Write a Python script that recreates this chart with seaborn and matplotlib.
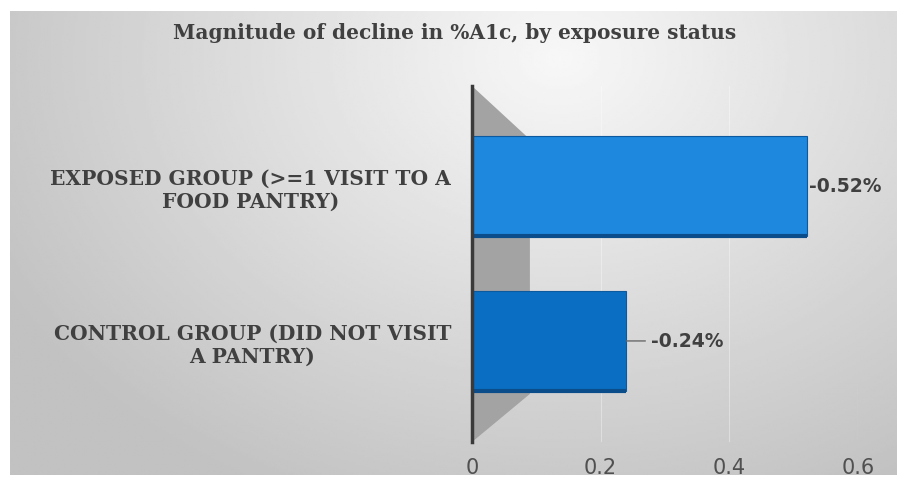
# plot.py - magnitude of decline in %A1c by exposure status

import numpy as np
import pandas as pd
import matplotlib
matplotlib.use('Agg')
import matplotlib.pyplot as plt
from matplotlib.patches import Polygon
import seaborn as sns

sns.set_theme(style='white')
plt.rcParams['font.family'] = ['DejaVu Sans']

# Data
groups = ['EXPOSED GROUP (>=1 VISIT TO A\nFOOD PANTRY)',
          'CONTROL GROUP (DID NOT VISIT\nA PANTRY)']
decline = [0.52, 0.24]
value_labels = ['-0.52%', '-0.24%']
x_ticks = [0, 0.2, 0.4, 0.6]
x_tick_labels = ['0', '0.2', '0.4', '0.6']
bar_colors = ['#1e88de', '#0a6fc2']

text_color = '#404040'

df = pd.DataFrame({'group': groups, 'decline': decline})

W, H = 907, 489
fig = plt.figure(figsize=(W / 100, H / 100), dpi=100)
fig.patch.set_facecolor('white')

# gradient background panel (light top centre, grey edges)
bg = fig.add_axes([10 / W, 1 - 476 / H, 887 / W, 464 / H])
gx, gy = np.meshgrid(np.linspace(0, 1, 400), np.linspace(0, 1, 200))
dist = np.sqrt(((gx - 0.62) / 0.75) ** 2 + ((gy - 0.1) / 1.1) ** 2)
shade = np.clip(0.97 - 0.22 * dist, 0.76, 0.97)
bg.imshow(shade, cmap='gray', vmin=0, vmax=1, aspect='auto',
          extent=[0, 1, 1, 0], interpolation='bilinear')
bg.axis('off')

fig.text(455 / W, 1 - 33 / H, 'Magnitude of decline in %A1c, by exposure status',
         ha='center', va='center', fontsize=14.5, fontweight='bold',
         family='DejaVu Serif', color=text_color)

# main chart axes
ax = fig.add_axes([472 / W, 1 - 443 / H, 386 / W, 356 / H])
ax.patch.set_alpha(0)

# grey side wall of the 3D chart
wall = Polygon([(0, 1), (0.15, 0.85), (0.15, 0.135), (0, 0)], closed=True,
               transform=ax.transAxes, facecolor='#a3a3a3', edgecolor='none',
               zorder=1, clip_on=False)
ax.add_patch(wall)

sns.barplot(data=df, x='decline', y='group', hue='group', palette=bar_colors,
            saturation=1, width=0.645, legend=False, ax=ax, zorder=3,
            edgecolor='#0b5aa0', linewidth=0.8)

# darker bottom edge on each bar
for p in list(ax.patches):
    if p is wall:
        continue
    y0 = p.get_y() + p.get_height()
    ax.plot([p.get_x(), p.get_x() + p.get_width()], [y0, y0],
            color='#0b4d8a', lw=3, zorder=4, solid_capstyle='butt')

ax.set_xlim(0, 0.6)
ax.set_ylim(1.652, -0.645)

ax.set_xticks(x_ticks, labels=x_tick_labels)
ax.set_yticks([0, 1], labels=groups)
ax.tick_params(axis='x', length=0, pad=11, labelsize=15, labelcolor='#505050')
ax.tick_params(axis='y', length=0, pad=15, labelsize=14.5, labelcolor=text_color)
for t in ax.get_yticklabels():
    t.set_multialignment('center')
    t.set_family('DejaVu Serif')
    t.set_fontweight('bold')
    t.set_linespacing(1.15)

ax.set_xlabel('')
ax.set_ylabel('')
ax.grid(axis='x', color='white', alpha=0.35, lw=0.8, zorder=0)
ax.grid(axis='y', visible=False)

for s in ['top', 'right', 'bottom']:
    ax.spines[s].set_visible(False)
ax.spines['left'].set_color('#3a3a3a')
ax.spines['left'].set_linewidth(2.5)
ax.spines['left'].set_zorder(5)

# data labels
for i, (v, lab) in enumerate(zip(decline, value_labels)):
    if i == 0:
        ax.annotate(lab, xy=(v, i), xytext=(2, 0), textcoords='offset points',
                    ha='left', va='center', fontsize=13.5, fontweight='bold',
                    color=text_color)
    else:
        ax.annotate(lab, xy=(v, i), xytext=(18, 0), textcoords='offset points',
                    ha='left', va='center', fontsize=13.5, fontweight='bold',
                    color=text_color,
                    arrowprops=dict(arrowstyle='-', color='#6a6a6a', lw=1,
                                    shrinkA=2, shrinkB=0))

fig.savefig('out.png', dpi=100)
